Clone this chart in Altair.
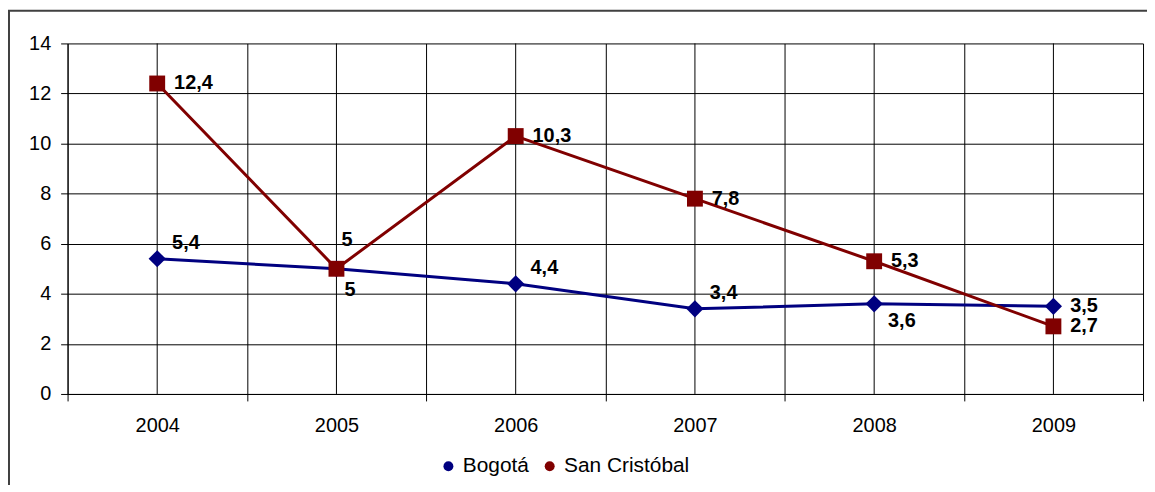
import altair as alt
import pandas as pd

# ---- data ----
years = [2004, 2005, 2006, 2007, 2008, 2009]
series_names = ["Bogotá", "San Cristóbal"]
bogota = [5.4, 5.0, 4.4, 3.4, 3.6, 3.5]
san_cristobal = [12.4, 5.0, 10.3, 7.8, 5.3, 2.7]
y_ticks = [0, 2, 4, 6, 8, 10, 12, 14]
# where each value label sits relative to its marker
bogota_label_side = ["upright", "down", "upright", "upright", "downright", "right"]
san_cristobal_label_side = ["right", "up", "right", "right", "right", "right"]

# ---- styles ----
FONT = "Liberation Sans, Arial, sans-serif"
colors = ["#000080", "#800000"]
markers = ["diamond", "square"]
marker_sizes = [300, 256]
legend_paths = [
    "M-3.6,-0.23L3.6,-0.23L3.6,0.23L-3.6,0.23Z M0,-1.1L1.1,0L0,1.1L-1.1,0Z",
    "M-3.6,-0.23L3.6,-0.23L3.6,0.23L-3.6,0.23Z M-1,-1L1,-1L1,1L-1,1Z",
]
label_offsets = {
    "right": (17, 0),
    "upright": (15, -16),
    "downright": (14, 17),
    "up": (5, -29),
    "down": (8, 21),
}

W, H = 1083, 353

rows = []
for name, vals, sides in [
    (series_names[0], bogota, bogota_label_side),
    (series_names[1], san_cristobal, san_cristobal_label_side),
]:
    for yr, v, s in zip(years, vals, sides):
        rows.append({"year": yr, "series": name, "value": v, "side": s})
df = pd.DataFrame(rows)
df_years = pd.DataFrame({"year": years})

x_scale = alt.Scale(type="band", domain=years, paddingInner=0, paddingOuter=0)
x_axis = alt.Axis(
    title=None, labelAngle=0, tickBand="extent", grid=True, gridColor="#000000",
    gridWidth=1, tickSize=7, tickColor="#000000", tickWidth=1, labelFont=FONT,
    labelFontSize=20, labelColor="#000000", labelPadding=15, labelOverlap=False,
    domainColor="#000000", domainWidth=1,
)
x_enc = alt.X("year:O", scale=x_scale, axis=x_axis)
y_enc = alt.Y(
    "value:Q",
    scale=alt.Scale(domain=[y_ticks[0], y_ticks[-1]], nice=False),
    axis=alt.Axis(
        values=y_ticks, title=None, grid=True, gridColor="#000000", gridWidth=1,
        tickSize=7, tickColor="#000000", tickWidth=1, labelFont=FONT, labelFontSize=20,
        labelColor="#000000", labelPadding=10, domainColor="#000000", domainWidth=1,
    ),
)
color_scale = alt.Scale(domain=series_names, range=colors)

base = alt.Chart(df)

center_grid = alt.Chart(df_years).mark_rule(color="#000000", strokeWidth=1).encode(
    x=x_enc, y=alt.value(0), y2=alt.value(H),
)

lines = base.mark_line(strokeWidth=3).encode(
    x=x_enc, y=y_enc,
    color=alt.Color("series:N", scale=color_scale, legend=None),
)

points = base.mark_point(filled=True, opacity=1).encode(
    x=x_enc, y=y_enc,
    color=alt.Color("series:N", scale=color_scale, legend=None),
    shape={
        "condition": {"test": f"datum.series == '{series_names[0]}'", "value": markers[0]},
        "value": markers[1],
    },
    size={
        "condition": {"test": f"datum.series == '{series_names[0]}'", "value": marker_sizes[0]},
        "value": marker_sizes[1],
    },
)

leg_fill = alt.Legend(
    orient="none", legendX=373, legendY=415, direction="horizontal", title=None,
    labelFont=FONT, labelFontSize=21, labelColor="#000000",
)
leg_shape = alt.Legend(orient="top-left", title="S")
legend_layer = base.mark_point(filled=True, size=169, opacity=1).encode(
    x=x_enc,
    y=alt.value(-1000),
    fill=alt.Fill("series:N", scale=alt.Scale(domain=series_names, range=colors), legend=leg_fill),
    shape=alt.Shape("series:N", scale=alt.Scale(domain=series_names, range=legend_paths), legend=leg_shape),
)

text_layers = []
for side, (dx, dy) in label_offsets.items():
    text_layers.append(
        base.transform_filter(alt.datum.side == side)
        .transform_calculate(label="replace(toString(datum.value), '.', ',')")
        .mark_text(align="left", baseline="middle", dx=dx, dy=dy, font=FONT,
                   fontSize=20, fontWeight="bold", color="#000000")
        .encode(x=x_enc, y=y_enc, text="label:N")
    )

border = alt.Chart(pd.DataFrame({"k": [0]})).mark_rect(
    fillOpacity=0, stroke="#404040", strokeWidth=2
).encode(
    x=alt.value(-59), x2=alt.value(W + 40), y=alt.value(-33), y2=alt.value(H + 200)
)

chart = alt.layer(border, center_grid, lines, points, *text_layers, legend_layer).properties(
    width=W,
    height=H,
    padding={"left": 60, "top": 34, "right": 4, "bottom": 90},
    autosize=alt.AutoSizeParams(type="none"),
    background="#ffffff",
).configure_view(strokeWidth=0)

chart.save("out.html", embed_options={"renderer": "svg", "actions": False})
